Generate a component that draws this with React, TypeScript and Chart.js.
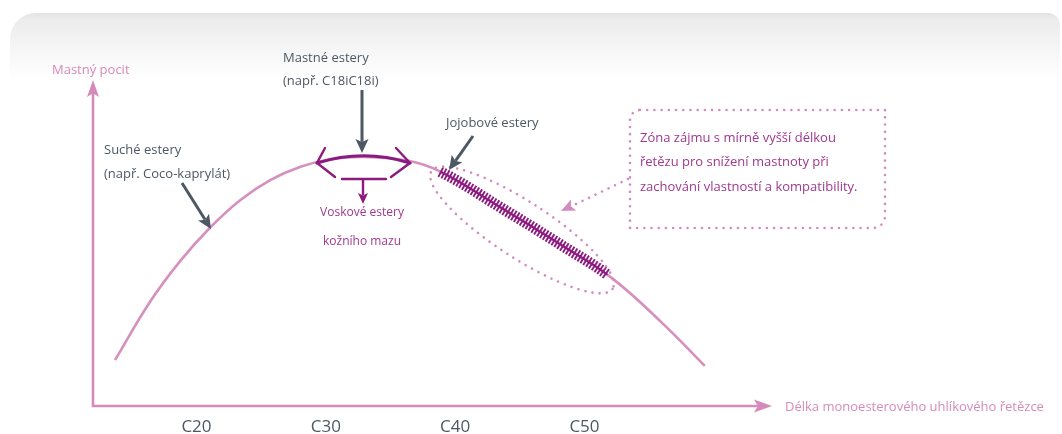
import React, { useEffect, useRef } from 'react';
import { Chart, registerables } from 'chart.js';

Chart.register(...registerables);

// ---- data ----
const chainLength = [13.7, 16.4, 18.75, 21.1, 23.4, 25.7, 28.05, 30.4, 32.9, 36.4, 38.9, 43.6, 48.2, 52.1, 56.0, 59.3];
const greasiness = [14.1, 31.9, 44.5, 54.9, 63.2, 69.3, 73.4, 75.7, 76.4, 75.2, 71.8, 60.7, 49.4, 39.3, 25.5, 12.3];
const tickValues = [20, 30, 40, 50];
const tickLabels = ['C20', 'C30', 'C40', 'C50'];
const xRange = [12, 64.5];
const yRange = [0, 100];
const jojobaRange = [38.9, 51.8];

const yAxisTitle = 'Mastný pocit';
const xAxisTitle = 'Délka monoesterového uhlíkového řetězce';
const oilyLabel = ['Mastné estery', '(např. C18iC18i)'];
const dryLabel = ['Suché estery', '(např. Coco-kaprylát)'];
const jojobaLabel = 'Jojobové estery';
const waxLabel = ['Voskové estery', 'kožního mazu'];
const zoneLabel = [
  'Zóna zájmu s mírně vyšší délkou',
  'řetězu pro snížení mastnoty při',
  'zachování vlastností a kompatibility.',
];

const PINK = '#d58bba';
const CURVE = '#d690be';
const MAGENTA = '#8c1b80';
const MAGENTA_TEXT = '#a0388f';
const GRAY = '#4d5864';
const DOT = '#d28bbd';
const FONT = '"Open Sans", "Noto Sans", sans-serif';

function head(ctx: CanvasRenderingContext2D, tx: number, ty: number, ang: number, len: number, half: number, color: string) {
  ctx.save();
  ctx.translate(tx, ty);
  ctx.rotate(ang);
  ctx.beginPath();
  ctx.moveTo(0, 0);
  ctx.lineTo(-len, -half);
  ctx.lineTo(-len * 0.78, 0);
  ctx.lineTo(-len, half);
  ctx.closePath();
  ctx.fillStyle = color;
  ctx.fill();
  ctx.restore();
}

function arrow(ctx: CanvasRenderingContext2D, x1: number, y1: number, x2: number, y2: number, color: string, lw: number, len: number, half: number) {
  const ang = Math.atan2(y2 - y1, x2 - x1);
  ctx.save();
  ctx.strokeStyle = color;
  ctx.lineWidth = lw;
  ctx.lineCap = 'butt';
  ctx.beginPath();
  ctx.moveTo(x1, y1);
  ctx.lineTo(x2 - Math.cos(ang) * len * 0.8, y2 - Math.sin(ang) * len * 0.8);
  ctx.stroke();
  ctx.restore();
  head(ctx, x2, y2, ang, len, half, color);
}

function dotted(ctx: CanvasRenderingContext2D, build: () => void) {
  ctx.save();
  ctx.strokeStyle = DOT;
  ctx.lineWidth = 2.6;
  ctx.lineCap = 'round';
  ctx.setLineDash([0.01, 7.2]);
  ctx.beginPath();
  build();
  ctx.stroke();
  ctx.restore();
}

function text(ctx: CanvasRenderingContext2D, s: string, x: number, y: number, color: string, size: number, align: CanvasTextAlign = 'left') {
  ctx.save();
  ctx.font = `${size}px ${FONT}`;
  ctx.fillStyle = color;
  ctx.textAlign = align;
  ctx.textBaseline = 'middle';
  ctx.fillText(s, x, y);
  ctx.restore();
}

const cardPlugin = {
  id: 'card',
  beforeDraw(chart: any) {
    const ctx: CanvasRenderingContext2D = chart.ctx;
    ctx.save();
    const g = ctx.createLinearGradient(0, 13, 0, 80);
    g.addColorStop(0, '#e3e3e3');
    g.addColorStop(0.1, '#ececec');
    g.addColorStop(0.5, '#f5f5f5');
    g.addColorStop(1, '#ffffff');
    ctx.beginPath();
    ctx.roundRect(10, 13, 1050, 440, [26, 12, 0, 0]);
    ctx.fillStyle = g;
    ctx.fill();
    ctx.restore();
  },
};

const axesPlugin = {
  id: 'axesArrows',
  beforeDatasetsDraw(chart: any) {
    const ctx: CanvasRenderingContext2D = chart.ctx;
    const { left, right, top, bottom } = chart.chartArea;
    const xs = chart.scales.x;
    ctx.save();
    ctx.strokeStyle = PINK;
    ctx.lineWidth = 2.6;
    ctx.beginPath();
    ctx.moveTo(left, top + 12);
    ctx.lineTo(left, bottom);
    ctx.lineTo(right - 12, bottom);
    ctx.stroke();
    ctx.restore();
    head(ctx, left, top, -Math.PI / 2, 17, 6, PINK);
    head(ctx, right, bottom, 0, 18, 6.5, PINK);
    tickValues.forEach((v, i) => {
      text(ctx, tickLabels[i], xs.getPixelForValue(v), bottom + 21, GRAY, 17, 'center');
    });
    text(ctx, yAxisTitle, left - 41, top - 10, PINK, 13);
    text(ctx, xAxisTitle, right + 13, bottom + 1, PINK, 13);
  },
};

const annotPlugin = {
  id: 'annotations',
  afterDatasetsDraw(chart: any) {
    const ctx: CanvasRenderingContext2D = chart.ctx;
    const xs = chart.scales.x;
    const meta = chart.getDatasetMeta(0);
    const pts: any[] = meta.data;

    // sample rendered curve
    const poly: [number, number][] = [];
    for (let i = 0; i < pts.length - 1; i++) {
      const a = pts[i], b = pts[i + 1];
      const p1x = a.cp2x ?? a.x, p1y = a.cp2y ?? a.y;
      const p2x = b.cp1x ?? b.x, p2y = b.cp1y ?? b.y;
      for (let k = 0; k < 40; k++) {
        const t = k / 40, u = 1 - t;
        const x = u * u * u * a.x + 3 * u * u * t * p1x + 3 * u * t * t * p2x + t * t * t * b.x;
        const y = u * u * u * a.y + 3 * u * u * t * p1y + 3 * u * t * t * p2y + t * t * t * b.y;
        poly.push([x, y]);
      }
    }
    const x0 = xs.getPixelForValue(jojobaRange[0]);
    const x1 = xs.getPixelForValue(jojobaRange[1]);
    const seg = poly.filter((p) => p[0] >= x0 && p[0] <= x1);

    // dark segment + hatch
    ctx.save();
    ctx.strokeStyle = MAGENTA;
    ctx.lineWidth = 2;
    ctx.beginPath();
    seg.forEach((p, i) => (i ? ctx.lineTo(p[0], p[1]) : ctx.moveTo(p[0], p[1])));
    ctx.stroke();
    ctx.lineWidth = 1.9;
    ctx.beginPath();
    let acc = 0;
    let next = 0;
    for (let i = 1; i < seg.length; i++) {
      const [ax, ay] = seg[i - 1];
      const [bx, by] = seg[i];
      const d = Math.hypot(bx - ax, by - ay);
      while (next <= acc + d) {
        const t = d ? (next - acc) / d : 0;
        const px = ax + (bx - ax) * t, py = ay + (by - ay) * t;
        const nx = -(by - ay) / d, ny = (bx - ax) / d;
        ctx.moveTo(px - nx * 5.5, py - ny * 5.5);
        ctx.lineTo(px + nx * 5.5, py + ny * 5.5);
        next += 3.4;
      }
      acc += d;
    }
    ctx.stroke();
    ctx.restore();

    // dotted ellipse
    dotted(ctx, () => ctx.ellipse(522, 230, 108, 28, (33 * Math.PI) / 180, 0, Math.PI * 2));

    // dotted box
    dotted(ctx, () => ctx.roundRect(630, 110, 255, 118, [10, 0, 12, 0]));
    dotted(ctx, () => {
      ctx.moveTo(628, 179);
      ctx.lineTo(574, 205);
    });
    head(ctx, 561, 211, Math.atan2(211 - 179, 561 - 628), 14, 6, DOT);
    zoneLabel.forEach((s, i) => text(ctx, s, 640, 138 + i * 24.5, MAGENTA_TEXT, 13));

    // wax bracket
    ctx.save();
    ctx.strokeStyle = MAGENTA;
    ctx.lineWidth = 3;
    ctx.lineCap = 'round';
    ctx.beginPath();
    ctx.moveTo(317, 163);
    ctx.quadraticCurveTo(363.5, 148.5, 410, 163);
    ctx.stroke();
    ctx.lineWidth = 2.4;
    ctx.beginPath();
    ctx.moveTo(325, 148);
    ctx.lineTo(317, 163);
    ctx.lineTo(335, 177);
    ctx.moveTo(396, 148);
    ctx.lineTo(410, 163);
    ctx.lineTo(391, 177);
    ctx.moveTo(342, 179);
    ctx.lineTo(386, 179);
    ctx.stroke();
    ctx.restore();
    arrow(ctx, 363, 179, 363, 204, MAGENTA, 2.4, 11, 5);
    waxLabel.forEach((s, i) => text(ctx, s, 362, 213 + i * 29, MAGENTA_TEXT, 12, 'center'));

    // gray labels and arrows
    oilyLabel.forEach((s, i) => text(ctx, s, 283, 58 + i * 23, GRAY, 13));
    arrow(ctx, 362, 90, 362, 153, GRAY, 3, 14, 6.5);
    dryLabel.forEach((s, i) => text(ctx, s, 104, 150 + i * 24, GRAY, 13));
    arrow(ctx, 182, 183, 211, 229, GRAY, 3, 14, 6.5);
    text(ctx, jojobaLabel, 446, 123, GRAY, 13);
    arrow(ctx, 473, 136, 449, 170, GRAY, 3, 14, 6.5);
  },
};

export default function App() {
  const ref = useRef<HTMLCanvasElement | null>(null);
  useEffect(() => {
    if (!ref.current) return;
    const chart = new Chart(ref.current, {
      type: 'line',
      data: {
        datasets: [
          {
            data: chainLength.map((c, i) => ({ x: c, y: greasiness[i] })),
            borderColor: CURVE,
            borderWidth: 2.6,
            pointRadius: 0,
            tension: 0.4,
            fill: false,
          },
        ],
      },
      options: {
        animation: false,
        responsive: true,
        maintainAspectRatio: false,
        devicePixelRatio: 1,
        layout: { padding: { left: 93, right: 290, top: 80, bottom: 28 } },
        plugins: { legend: { display: false }, tooltip: { enabled: false } },
        events: [],
        scales: {
          x: { type: 'linear', display: false, min: xRange[0], max: xRange[1] },
          y: { type: 'linear', display: false, min: yRange[0], max: yRange[1] },
        },
      },
      plugins: [cardPlugin, axesPlugin, annotPlugin],
    });
    return () => chart.destroy();
  }, []);
  return (
    <div style={{ position: 'fixed', left: 0, top: 0, width: 1062, height: 434, background: '#fff' }}>
      <canvas ref={ref} />
    </div>
  );
}
